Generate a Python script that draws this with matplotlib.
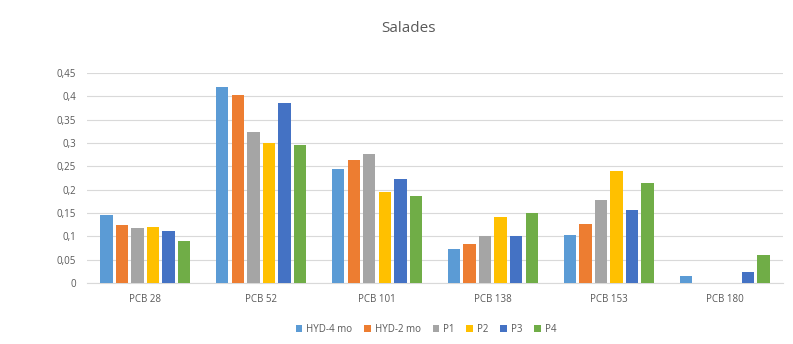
import numpy as np
import matplotlib.pyplot as plt
from matplotlib.ticker import FuncFormatter

categories = ["PCB 28", "PCB 52", "PCB 101", "PCB 138", "PCB 153", "PCB 180"]
series_names = ["HYD-4 mo", "HYD-2 mo", "P1", "P2", "P3", "P4"]

hyd4 = [0.145, 0.419, 0.244, 0.073, 0.104, 0.015]
hyd2 = [0.125, 0.402, 0.264, 0.083, 0.127, 0.0]
p1 = [0.118, 0.323, 0.277, 0.101, 0.177, 0.0]
p2 = [0.121, 0.301, 0.194, 0.142, 0.240, 0.0]
p3 = [0.111, 0.385, 0.223, 0.100, 0.156, 0.024]
p4 = [0.090, 0.295, 0.187, 0.150, 0.214, 0.061]

series = [hyd4, hyd2, p1, p2, p3, p4]
colors = ["#5B9BD5", "#ED7D31", "#A5A5A5", "#FFC000", "#4472C4", "#70AD47"]

plt.rcParams["font.family"] = ["Open Sans", "DejaVu Sans"]

fig = plt.figure(figsize=(7.93, 3.44), dpi=100)
ax = fig.add_axes([0.110, 0.177, 0.877, 0.611])

x = np.arange(len(categories))
step = 0.134
width = 0.107
for i, (vals, name, c) in enumerate(zip(series, series_names, colors)):
    offs = (i - 2.5) * step
    ax.bar(x + offs, vals, width, color=c, label=name, zorder=3)

ax.set_xlim(-0.5, len(categories) - 0.5)
ax.set_ylim(0, 0.45)
ax.set_yticks(np.arange(0, 0.451, 0.05))
ax.yaxis.set_major_formatter(FuncFormatter(lambda v, p: ("%g" % round(v, 2)).replace(".", ",")))
ax.set_xticks(x)
ax.set_xticklabels(categories)
ax.tick_params(axis="both", length=0, labelsize=7, colors="#595959", pad=8)
ax.tick_params(axis="x", pad=8)

ax.grid(axis="y", color="#D9D9D9", linewidth=0.8, zorder=0)
for s in ["top", "right", "left"]:
    ax.spines[s].set_visible(False)
ax.spines["bottom"].set_color("#D9D9D9")
ax.spines["bottom"].set_linewidth(0.8)

fig.text(0.515, 0.918, "Salades", fontsize=11, color="#595959", ha="center", va="center")

ax.legend(loc="upper center", bbox_to_anchor=(0.487, -0.152), ncol=6, frameon=False,
          fontsize=7, handlelength=0.7, handleheight=0.7, handletextpad=0.4,
          columnspacing=1.2, labelcolor="#595959")

fig.savefig("out.png", dpi=100)
